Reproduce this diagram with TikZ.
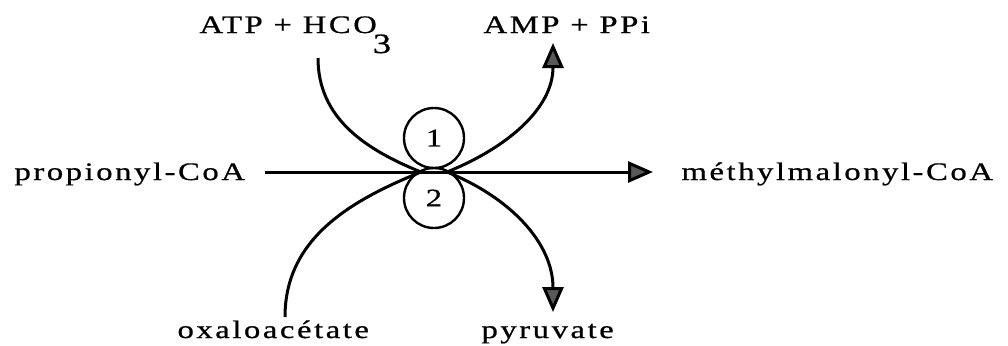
\documentclass[tikz,border=0pt]{standalone}
\usepackage{fontspec}
\setmainfont{Liberation Serif}[FakeStretch=1.3, LetterSpace=10, FakeBold=0.7]
\usetikzlibrary{arrows.meta}

\begin{document}
\begin{tikzpicture}[x=0.5pt, y=-0.5pt, line width=1.5pt,
    >={Triangle[length=12.5pt, width=10.5pt, fill=black!65]},
    font=\fontsize{12.6}{15}\selectfont,
    lbl/.style={inner sep=0pt, text height=11pt, text depth=3pt},
    enz/.style={circle, draw, minimum size=30pt, inner sep=0pt, line width=1.2pt}]
  \useasboundingbox (0,0) rectangle (1008,345);

  % substrates and products
  \node[lbl, anchor=base west] (prop) at (13,180) {propionyl-CoA};
  \node[lbl, anchor=base west] (mmc) at (680,180) {méthylmalonyl-CoA};
  \node[lbl, anchor=base west] (atp) at (198,33)
    {ATP + HCO\kern-2pt\raisebox{-10pt}[0pt][0pt]{\fontsize{14}{15}\selectfont 3}};
  \node[lbl, anchor=base west] (amp) at (482,33) {AMP + PPi};
  \node[lbl, anchor=base west] (oaa) at (176,338) {oxaloacétate};
  \node[lbl, anchor=base west] (pyr) at (480,338) {pyruvate};

  % the two partial reactions
  \node[enz] (e1) at (434,138) {1};
  \node[enz] (e2) at (434,198) {2};
  \coordinate (hubin) at (421,172);
  \coordinate (hubout) at (447,172);

  % main flow
  \draw[->, shorten <=9.5pt, shorten >=13.5pt] (prop) -- (mmc);

  % coupled reactions
  \draw ([shift={(120,25)}]atp.base west) to[out=-90, in=158] (hubin);
  \draw[->] (hubout) to[out=22, in=-90] ([shift={(71,10)}]amp.base west);
  \draw ([shift={(109,-21)}]oaa.base west) to[out=90, in=-158] (hubin);
  \draw[->] (hubout) to[out=-22, in=90] ([shift={(73,-26)}]pyr.base west);
\end{tikzpicture}
\end{document}
